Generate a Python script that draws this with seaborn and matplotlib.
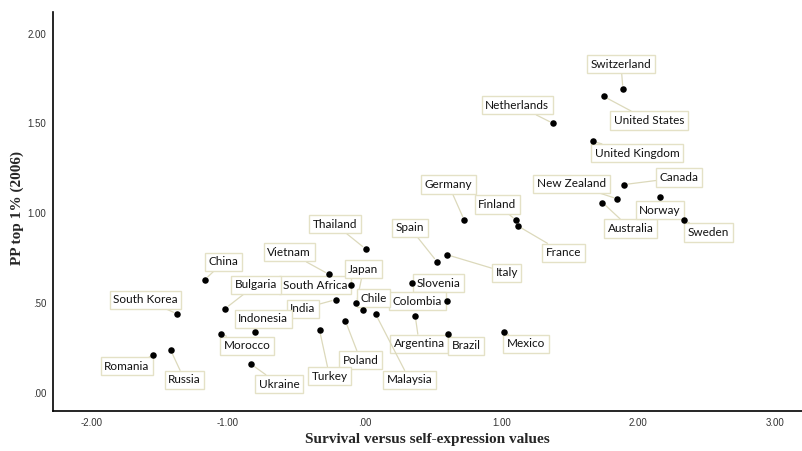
import numpy as np
import pandas as pd
import seaborn as sns
from matplotlib import pyplot as plt

# values
countries = ['Switzerland', 'United States', 'Netherlands', 'United Kingdom', 'Canada',
             'New Zealand', 'Australia', 'Norway', 'Sweden', 'Germany', 'Finland', 'France',
             'Italy', 'Spain', 'Slovenia', 'Colombia', 'Argentina', 'Brazil', 'Mexico',
             'Thailand', 'Vietnam', 'South Africa', 'India', 'Japan', 'Chile', 'Malaysia',
             'Poland', 'Turkey', 'China', 'Bulgaria', 'South Korea', 'Indonesia', 'Morocco',
             'Russia', 'Romania', 'Ukraine']
survival = [1.89, 1.75, 1.38, 1.67, 1.90,
            1.85, 1.74, 2.16, 2.34, 0.73, 1.11, 1.12,
            0.60, 0.53, 0.35, 0.60, 0.37, 0.61, 1.02,
            0.01, -0.26, -0.10, -0.21, -0.06, -0.01, 0.08,
            -0.14, -0.33, -1.17, -1.02, -1.37, -0.80, -1.05,
            -1.42, -1.55, -0.83]
pp_top1 = [1.69, 1.65, 1.50, 1.40, 1.16,
           1.08, 1.06, 1.09, 0.96, 0.96, 0.96, 0.93,
           0.77, 0.73, 0.61, 0.51, 0.43, 0.33, 0.34,
           0.80, 0.66, 0.60, 0.52, 0.50, 0.46, 0.44,
           0.40, 0.35, 0.63, 0.47, 0.44, 0.34, 0.33,
           0.24, 0.21, 0.16]

# label offsets in pixels (dx right, dy down)
label_offsets = {
    'Switzerland': (-2, -25), 'United States': (45, 24), 'Netherlands': (-36, -18),
    'United Kingdom': (44, 12), 'Canada': (55, -7), 'New Zealand': (-46, -15),
    'Australia': (28, 26), 'Norway': (0, 13), 'Sweden': (24, 12), 'Germany': (-16, -36),
    'Finland': (-19, -16), 'France': (46, 27), 'Italy': (60, 18), 'Spain': (-27, -34),
    'Slovenia': (26, 0), 'Colombia': (-29, 0), 'Argentina': (4, 28), 'Brazil': (18, 12),
    'Mexico': (22, 12), 'Thailand': (-31, -25), 'Vietnam': (-40, -22),
    'South Africa': (-36, 0), 'India': (-33, 9), 'Japan': (7, -34), 'Chile': (10, -12),
    'Malaysia': (34, 66), 'Poland': (15, 39), 'Turkey': (10, 46), 'China': (19, -18),
    'Bulgaria': (31, -24), 'South Korea': (-32, -14), 'Indonesia': (8, -13),
    'Morocco': (26, 12), 'Russia': (14, 30), 'Romania': (-26, 11), 'Ukraine': (28, 20),
}

df = pd.DataFrame({'country': countries, 'x': survival, 'y': pp_top1})

sns.set_style('white')
fig = plt.figure(figsize=(8.02, 4.51), dpi=100)
ax = fig.add_axes([53 / 802, 40 / 451, 749 / 802, 399 / 451])

sns.scatterplot(data=df, x='x', y='y', color='black', s=22, edgecolor='black',
                linewidth=0, ax=ax, zorder=3)

for name, px, py in zip(countries, survival, pp_top1):
    dx, dy = label_offsets[name]
    ax.annotate(name, xy=(px, py), xytext=(dx, -dy), textcoords='offset pixels',
                ha='center', va='center', fontsize=8.5, family='Lato', color='#111111',
                bbox=dict(boxstyle='square,pad=0.3', fc='white', ec='#e4e1c6', lw=1),
                arrowprops=dict(arrowstyle='-', color='#dcd9bb', lw=0.9,
                                shrinkA=0, shrinkB=3),
                zorder=2)

ax.set_xlim(-2.28, 3.2)
ax.set_ylim(-0.1, 2.12)
ax.set_xticks([-2, -1, 0, 1, 2, 3])
ax.set_xticklabels(['-2.00', '-1.00', '.00', '1.00', '2.00', '3.00'])
ax.set_yticks([0, 0.5, 1, 1.5, 2])
ax.set_yticklabels(['.00', '.50', '1.00', '1.50', '2.00'])
ax.tick_params(axis='both', length=0, labelsize=7, colors='#333333', pad=5)
for lbl in ax.get_xticklabels() + ax.get_yticklabels():
    lbl.set_family('Liberation Sans')

sns.despine(ax=ax)
ax.spines['left'].set_color('black')
ax.spines['bottom'].set_color('black')
ax.spines['left'].set_linewidth(1.2)
ax.spines['bottom'].set_linewidth(1.2)

ax.set_xlabel('Survival versus self-expression values', family='Liberation Serif',
              fontweight='bold', fontsize=11, va='center')
ax.set_ylabel('PP top 1% (2006)', family='Liberation Serif', fontweight='bold',
              fontsize=11, va='center')
ax.xaxis.set_label_coords((427 - 53) / 749, -29 / 399)
ax.yaxis.set_label_coords(-36 / 749, 0.51)

fig.savefig('out.png', dpi=100)
